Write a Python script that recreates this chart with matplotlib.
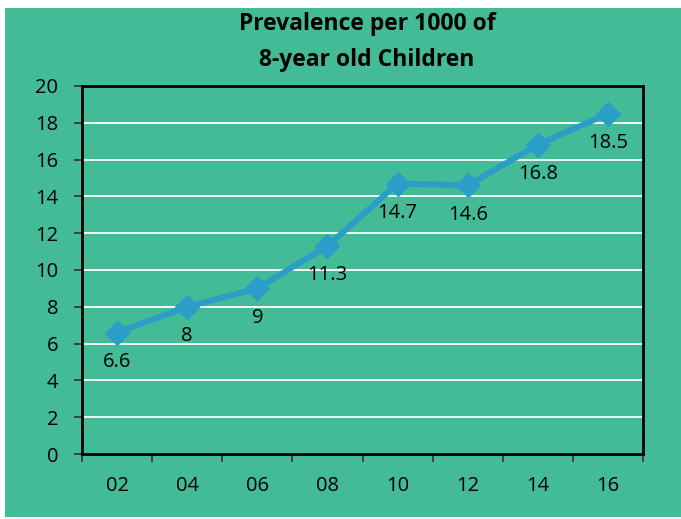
import matplotlib
matplotlib.use("Agg")
import matplotlib.pyplot as plt
from matplotlib.patches import Rectangle

years = ["02", "04", "06", "08", "10", "12", "14", "16"]
prevalence = [6.6, 8, 9, 11.3, 14.7, 14.6, 16.8, 18.5]
y_ticks = list(range(0, 21, 2))

bg = "#43BB97"
line_col = "#2A9DC8"

plt.rcParams["font.family"] = ["Open Sans", "DejaVu Sans"]

fig = plt.figure(figsize=(6.81, 5.19), dpi=100)
fig.patch.set_facecolor("white")
# green panel with a thin white strip round the edges
fig.patches.append(Rectangle((5 / 681, 2 / 519), 1, 509 / 519, transform=fig.transFigure,
                             facecolor=bg, edgecolor="none", zorder=-10))

ax = fig.add_axes([82 / 681, 1 - 454 / 519, (643 - 82) / 681, (454 - 86) / 519])
ax.set_zorder(1)
ax.set_facecolor(bg)

x = list(range(len(years)))
ax.plot(x, prevalence, color=line_col, lw=4.3, marker="D", ms=12,
        markerfacecolor=line_col, markeredgecolor=line_col, zorder=3)
for xi, v in zip(x, prevalence):
    ax.annotate(f"{v:g}", (xi, v), xytext=(0, -21), textcoords="offset points",
                ha="center", va="center", fontsize=14.5, color="black")

ax.set_xlim(-0.5, len(years) - 0.5)
ax.set_ylim(0, 20)
ax.set_yticks(y_ticks)
ax.set_xticks([i - 0.5 for i in range(len(years) + 1)])
ax.set_xticklabels([])
ax.set_xticks(x, minor=True)
ax.set_xticklabels(years, minor=True)
ax.tick_params(axis="x", which="minor", length=0, pad=16, labelsize=14.5)
ax.tick_params(axis="x", which="major", length=6, width=1.2, color="#333333")
ax.tick_params(axis="y", length=6, width=1.2, color="#333333", pad=11, labelsize=14.5)

ax.grid(axis="y", color="white", lw=1.3)
ax.set_axisbelow(True)
for s in ax.spines.values():
    s.set_color("black")
    s.set_linewidth(2)

fig.text(367 / 681, 1 - 42 / 519, "Prevalence per 1000 of\n8-year old Children",
         ha="center", va="center", fontsize=16.5, fontweight="bold", linespacing=1.7)

fig.savefig("out.png", dpi=100, facecolor=fig.get_facecolor())
